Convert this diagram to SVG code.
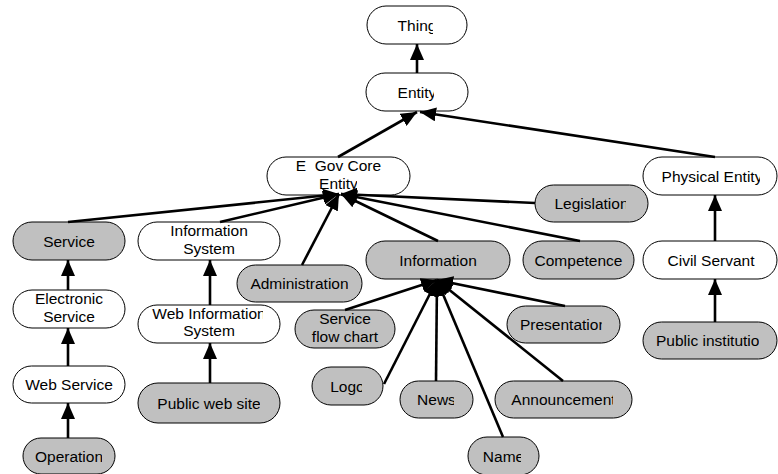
<svg xmlns="http://www.w3.org/2000/svg" width="778" height="474" viewBox="0 0 778 474">
<style>
.n rect{stroke:#000;stroke-width:1}
.w rect{fill:#fff}
.g rect{fill:#c0c0c0}
text{font-family:"Liberation Sans",Arial,sans-serif;font-size:15.5px;fill:#000;text-anchor:middle}
.c line{stroke:#000;stroke-width:2.6;marker-end:url(#arr)}
</style>
<defs>
<marker id="arr" viewBox="0 0 16 14" refX="16" refY="7" markerWidth="16" markerHeight="14" markerUnits="userSpaceOnUse" orient="auto"><path d="M0,0 L16,7 L0,14 z" fill="#000"/></marker>
<clipPath id="cThing" clipPathUnits="userSpaceOnUse"><rect x="367" y="0" width="66" height="50"/></clipPath>
<clipPath id="cEntity" clipPathUnits="userSpaceOnUse"><rect x="366" y="70" width="68" height="45"/></clipPath>
<clipPath id="cEgov" clipPathUnits="userSpaceOnUse"><rect x="267" y="174" width="90" height="25"/></clipPath>
<clipPath id="cWis" clipPathUnits="userSpaceOnUse"><rect x="138" y="300" width="125" height="21"/></clipPath>
<clipPath id="cWebS" clipPathUnits="userSpaceOnUse"><rect x="13" y="366" width="106" height="40"/></clipPath>
<clipPath id="cOp" clipPathUnits="userSpaceOnUse"><rect x="23" y="438" width="79" height="40"/></clipPath>
<clipPath id="cPws" clipPathUnits="userSpaceOnUse"><rect x="138" y="383" width="122" height="40"/></clipPath>
<clipPath id="cLeg" clipPathUnits="userSpaceOnUse"><rect x="535" y="185" width="91" height="40"/></clipPath>
<clipPath id="cPhys" clipPathUnits="userSpaceOnUse"><rect x="643" y="157" width="117" height="40"/></clipPath>
<clipPath id="cPubI" clipPathUnits="userSpaceOnUse"><rect x="643" y="322" width="116" height="40"/></clipPath>
<clipPath id="cComp" clipPathUnits="userSpaceOnUse"><rect x="523" y="241" width="100" height="40"/></clipPath>
<clipPath id="cPres" clipPathUnits="userSpaceOnUse"><rect x="507" y="306" width="95" height="40"/></clipPath>
<clipPath id="cLogo" clipPathUnits="userSpaceOnUse"><rect x="312" y="367" width="50" height="40"/></clipPath>
<clipPath id="cNews" clipPathUnits="userSpaceOnUse"><rect x="400" y="381" width="54" height="40"/></clipPath>
<clipPath id="cAnn" clipPathUnits="userSpaceOnUse"><rect x="495" y="381" width="118" height="40"/></clipPath>
<clipPath id="cName" clipPathUnits="userSpaceOnUse"><rect x="468" y="437" width="53" height="40"/></clipPath>
<clipPath id="cAdm" clipPathUnits="userSpaceOnUse"><rect x="237" y="265" width="111" height="40"/></clipPath>
</defs>

<g id="thing" class="n w"><rect x="367" y="6" width="100" height="38" rx="19"/><text x="417" y="30.5" clip-path="url(#cThing)">Thing</text></g>
<g id="entity" class="n w"><rect x="366" y="73" width="102" height="38" rx="19"/><text x="417" y="97.5" clip-path="url(#cEntity)">Entity</text></g>
<g id="egov" class="n w"><rect x="267" y="157" width="143" height="38" rx="19"/><text x="338.5" y="171">E&#160;&#160;Gov Core</text><text x="338.5" y="188.5" clip-path="url(#cEgov)">Entity</text></g>
<g id="physical-entity" class="n w"><rect x="643" y="157" width="134" height="38" rx="19"/><text x="712" y="181.5" clip-path="url(#cPhys)">Physical Entity</text></g>
<g id="legislation" class="n g"><rect x="535" y="185" width="113" height="37" rx="18.5"/><text x="591.5" y="209" clip-path="url(#cLeg)">Legislation</text></g>
<g id="service" class="n g"><rect x="13" y="222" width="112" height="38" rx="19"/><text x="69" y="246.5">Service</text></g>
<g id="information-system" class="n w"><rect x="138" y="222" width="142" height="38" rx="19"/><text x="209" y="236">Information</text><text x="209" y="253.5">System</text></g>
<g id="information" class="n g"><rect x="366" y="241" width="144" height="38" rx="19"/><text x="438" y="265.5">Information</text></g>
<g id="competence" class="n g"><rect x="523" y="241" width="111" height="38" rx="19"/><text x="578.5" y="265.5" clip-path="url(#cComp)">Competence</text></g>
<g id="civil-servant" class="n w"><rect x="643" y="241" width="134" height="38" rx="19"/><text x="711" y="265.5">Civil Servant</text></g>
<g id="administration" class="n g"><rect x="237" y="265" width="125" height="37" rx="18.5"/><text x="299.5" y="289" clip-path="url(#cAdm)">Administration</text></g>
<g id="electronic-service" class="n w"><rect x="13" y="290" width="112" height="38" rx="19"/><text x="69" y="304">Electronic</text><text x="69" y="321.5">Service</text></g>
<g id="web-information-system" class="n w"><rect x="138" y="305" width="142" height="38" rx="19"/><text x="209" y="318.5" clip-path="url(#cWis)">Web Information</text><text x="209" y="336">System</text></g>
<g id="service-flow-chart" class="n g"><rect x="295" y="310" width="100" height="38" rx="19"/><text x="345" y="324">Service</text><text x="345" y="341.5">flow chart</text></g>
<g id="presentation" class="n g"><rect x="507" y="306" width="113" height="37" rx="18.5"/><text x="563.5" y="330" clip-path="url(#cPres)">Presentation</text></g>
<g id="public-institution" class="n g"><rect x="643" y="322" width="134" height="37" rx="18.5"/><text x="712" y="346" clip-path="url(#cPubI)">Public institution</text></g>
<g id="web-service" class="n w"><rect x="13" y="366" width="112" height="37" rx="18.5"/><text x="69" y="390" clip-path="url(#cWebS)">Web Service</text></g>
<g id="logo" class="n g"><rect x="312" y="367" width="71" height="38" rx="19"/><text x="347.5" y="391.5" clip-path="url(#cLogo)">Logo</text></g>
<g id="news" class="n g"><rect x="400" y="381" width="73" height="37" rx="18.5"/><text x="436.5" y="405" clip-path="url(#cNews)">News</text></g>
<g id="announcement" class="n g"><rect x="495" y="381" width="137" height="37" rx="18.5"/><text x="563.5" y="405" clip-path="url(#cAnn)">Announcement</text></g>
<g id="public-web-site" class="n g"><rect x="138" y="383" width="142" height="40" rx="20"/><text x="209" y="408.5" clip-path="url(#cPws)">Public web site</text></g>
<g id="operation" class="n g"><rect x="23" y="438" width="92" height="36" rx="18"/><text x="69" y="461.5" clip-path="url(#cOp)">Operation</text></g>
<g id="name" class="n g"><rect x="468" y="437" width="71" height="38" rx="19"/><text x="503.5" y="461.5" clip-path="url(#cName)">Name</text></g>

<g id="connectors" class="c">
<line x1="417" y1="73" x2="417" y2="44"/>
<line x1="338" y1="157" x2="417" y2="112"/>
<line x1="715" y1="157" x2="420" y2="112"/>
<line x1="68" y1="222" x2="339" y2="194"/>
<line x1="220" y1="222" x2="339" y2="194"/>
<line x1="302" y1="265" x2="339" y2="194"/>
<line x1="438" y1="241" x2="341" y2="194"/>
<line x1="580" y1="241" x2="341" y2="194"/>
<line x1="535" y1="203" x2="341" y2="194"/>
<line x1="715" y1="241" x2="715" y2="195"/>
<line x1="715" y1="322" x2="715" y2="279"/>
<line x1="68" y1="290" x2="68" y2="260"/>
<line x1="68" y1="366" x2="68" y2="328"/>
<line x1="68" y1="438" x2="68" y2="403"/>
<line x1="210" y1="305" x2="210" y2="260"/>
<line x1="210" y1="383" x2="210" y2="343"/>
<line x1="345" y1="310" x2="437" y2="280"/>
<line x1="384" y1="384" x2="437" y2="280"/>
<line x1="436" y1="381" x2="437" y2="280"/>
<line x1="503" y1="437" x2="437" y2="280"/>
<line x1="563" y1="381" x2="437" y2="280"/>
<line x1="565" y1="306" x2="437" y2="280"/>
</g>
</svg>
